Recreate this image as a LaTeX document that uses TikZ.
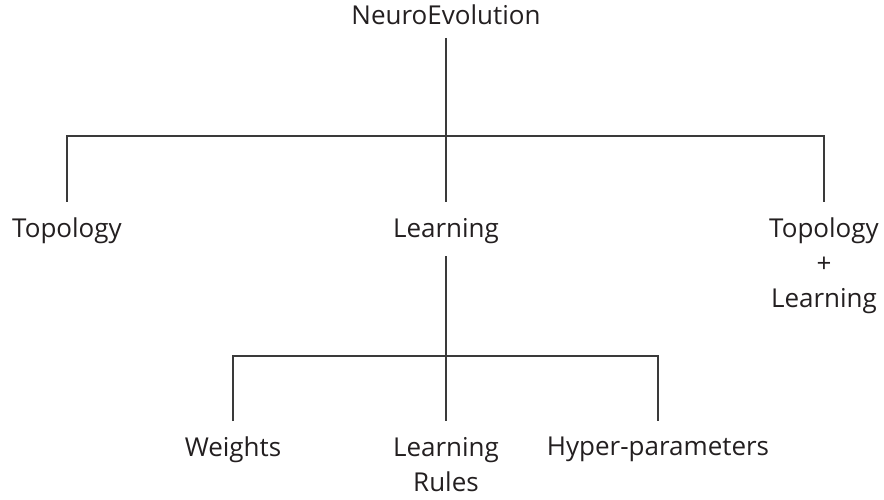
\documentclass[tikz,border=0pt]{standalone}
\usepackage{fontspec}
\setmainfont{Open Sans}
\definecolor{ink}{HTML}{231F20}
\definecolor{wire}{HTML}{3A3A3A}
\begin{document}
\begin{tikzpicture}[x=1pt,y=-1pt,
  label/.style={inner sep=0pt,outer ysep=16pt,align=center,text=ink,
    font=\fontsize{26}{35}\selectfont},
  wireline/.style={draw=wire,line width=1.3pt}]
\useasboundingbox (0,0) rectangle (884,500);
% root
\node[label,outer ysep=13pt,anchor=south] (root) at (446,38) {NeuroEvolution};
% second level
\node[label,anchor=north] (topo) at (67,202) {Topology};
\node[label,anchor=north] (learn) at (446,202) {Learning};
\node[label,anchor=north] (both) at (824,202) {Topology\\+\\Learning};
% third level
\node[label,anchor=north] (wts) at (233,421) {Weights};
\node[label,anchor=north] (rules) at (446,421) {Learning\\Rules};
\node[label,anchor=north] (hyper) at (658,421) {Hyper-parameters};
% branching points
\coordinate (bus1) at (446,136);
\coordinate (bus2) at (446,356);
% connectors
\draw[wireline] (root.south) -- (bus1);
\draw[wireline] (topo.north) |- (bus1) -| (both.north);
\draw[wireline] (bus1) -- (learn.north);
\draw[wireline] ([yshift=3pt]learn.south) -- (bus2);
\draw[wireline] (wts.north) |- (bus2) -| (hyper.north);
\draw[wireline] (bus2) -- (rules.north);
\end{tikzpicture}
\end{document}
